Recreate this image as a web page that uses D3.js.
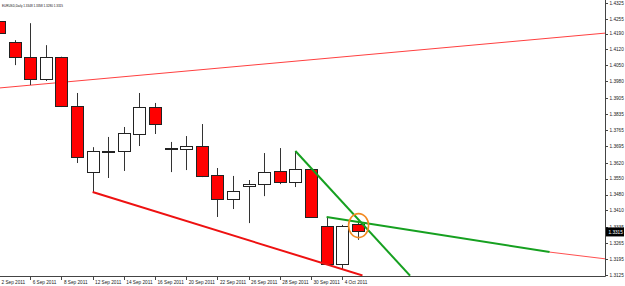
<!DOCTYPE html>
<html><head><meta charset="utf-8">
<script src="https://cdn.jsdelivr.net/npm/d3@7"></script>
<style>
body{margin:0;background:#fff;overflow:hidden}
svg{display:block}
text{font-family:"Liberation Sans",Arial,sans-serif}
</style></head>
<body><svg id="c" width="625" height="286"></svg>
<script>
// ---- data ----
const dates = ["2 Sep","5 Sep","6 Sep","7 Sep","8 Sep","9 Sep","12 Sep","13 Sep","14 Sep","15 Sep","16 Sep","19 Sep","20 Sep","21 Sep","22 Sep","23 Sep","26 Sep","27 Sep","28 Sep","29 Sep","30 Sep","3 Oct","4 Oct","5 Oct"];
const opens  = [1.4246,1.4153,1.4086,1.3989,1.4086,1.3870,1.3579,1.3670,1.3672,1.3747,1.3866,1.3685,1.3681,1.3694,1.3566,1.3460,1.3517,1.3526,1.3584,1.3535,1.3592,1.3341,1.3174,1.3348];
const highs  = [1.4252,1.4161,1.4236,1.4139,1.4088,1.3928,1.3689,1.3734,1.3778,1.3928,1.3884,1.3712,1.3738,1.3791,1.3597,1.3562,1.3544,1.3663,1.3685,1.3672,1.3594,1.3381,1.3346,1.3358];
const lows   = [1.4188,1.4051,1.3963,1.3981,1.3866,1.3619,1.3491,1.3553,1.3584,1.3694,1.3747,1.3579,1.3588,1.3557,1.3381,1.3416,1.3354,1.3473,1.3526,1.3513,1.3380,1.3169,1.3151,1.3280];
const closes = [1.4192,1.4086,1.3989,1.4086,1.3870,1.3645,1.3672,1.3673,1.3751,1.3866,1.3791,1.3681,1.3694,1.3562,1.3460,1.3495,1.3526,1.3579,1.3535,1.3592,1.3381,1.3174,1.3341,1.3315];

const dateTickIndex  = [0,2,4,6,8,10,12,14,16,18,20,22];
const dateTickLabels = ["2 Sep 2011","6 Sep 2011","8 Sep 2011","12 Sep 2011","14 Sep 2011","16 Sep 2011","20 Sep 2011","22 Sep 2011","26 Sep 2011","28 Sep 2011","30 Sep 2011","4 Oct 2011"];
const priceTickLabels = ["1.3125","1.3195","1.3265","1.3335","1.3410","1.3480","1.3550","1.3620","1.3695","1.3765","1.3835","1.3905","1.3980","1.4050","1.4120","1.4190","1.4255","1.4325"];

const title = "EURUSD,Daily  1.3348 1.3358 1.3280 1.3315";
const lastPrice = "1.3315";

// trend lines: [startIndex, startPrice, endIndex, endPrice]
const upperRedLine  = [0, 1.3950, 39, 1.4193];
const lowerRedLine  = [6, 1.3491, 23.3, 1.3123];
const steepGreenLine = [19, 1.3672, 26.35, 1.3122];
const flatGreenLine  = [21, 1.3381, 35.3, 1.3226];
const redExtension   = [35.3, 1.3226, 38.9, 1.3196];
const markerCircle = [23.05, 1.3343];

// ---- drawing ----
const W = 625, H = 286, axisX = 605, axisY = 276;
const svg = d3.select("#c");
const x = d3.scaleLinear().domain([0, 24]).range([-1, -1 + 24 * 15.6]);
const y = d3.scaleLinear().domain([1.3125, 1.4325]).range([275, 3]);

svg.append("defs").append("clipPath").attr("id","plot")
  .append("rect").attr("x",0).attr("y",0).attr("width",axisX).attr("height",axisY);

const plot = svg.append("g").attr("clip-path","url(#plot)");

function drawLine(l, color, w) {
  plot.append("line")
    .attr("x1", x(l[0])).attr("y1", y(l[1]))
    .attr("x2", x(l[2])).attr("y2", y(l[3]))
    .attr("stroke", color).attr("stroke-width", w);
}

// upper thin red line (behind candles)
drawLine(upperRedLine, "#ff4040", 1);

// candles
const idx = d3.range(dates.length);
const bw = 12;
const cg = plot.append("g");
cg.selectAll("line.wick").data(idx).join("line")
  .attr("class","wick")
  .attr("x1", i => Math.round(x(i)) + 0.5).attr("x2", i => Math.round(x(i)) + 0.5)
  .attr("y1", i => y(highs[i])).attr("y2", i => y(lows[i]))
  .attr("stroke", "#333").attr("stroke-width", 1);
cg.selectAll("rect.body").data(idx).join("rect")
  .attr("class","body")
  .attr("x", i => Math.round(x(i)) - bw/2 + 0.5)
  .attr("width", bw)
  .attr("y", i => Math.round(y(Math.max(opens[i], closes[i]))) + 0.5)
  .attr("height", i => Math.max(1, Math.round(Math.abs(y(opens[i]) - y(closes[i])))))
  .attr("fill", i => closes[i] < opens[i] ? "#ff0000" : "#ffffff")
  .attr("stroke", "#222").attr("stroke-width", 1);

// trend lines
drawLine(lowerRedLine, "#ee1111", 2);
drawLine(steepGreenLine, "#16a020", 2);
drawLine(flatGreenLine, "#16a020", 2);
drawLine(redExtension, "#ff5050", 1);

// orange circle
plot.append("ellipse")
  .attr("cx", x(markerCircle[0])).attr("cy", y(markerCircle[1]))
  .attr("rx", 10).attr("ry", 12)
  .attr("fill","none").attr("stroke","#f28a22").attr("stroke-width",1.6);

// axes frame
svg.append("line").attr("x1",0).attr("x2",axisX+0.5).attr("y1",axisY+0.5).attr("y2",axisY+0.5)
  .attr("stroke","#444").attr("stroke-width",1);
svg.append("line").attr("x1",axisX+0.5).attr("x2",axisX+0.5).attr("y1",0).attr("y2",axisY+0.5)
  .attr("stroke","#444").attr("stroke-width",1);

// price ticks
const priceVals = priceTickLabels.map(Number);
const yt = svg.append("g");
yt.selectAll("line").data(priceVals).join("line")
  .attr("x1", axisX+1).attr("x2", axisX+3)
  .attr("y1", d => Math.round(y(d))+0.5).attr("y2", d => Math.round(y(d))+0.5)
  .attr("stroke","#444");
yt.selectAll("text").data(priceTickLabels).join("text")
  .attr("x", axisX+4.5).attr("y", (d,i) => y(priceVals[i]) + 1.7)
  .attr("font-size", 4.7).attr("fill","#222").text(d => d);

// last price box
const lp = +lastPrice;
svg.append("rect").attr("x", axisX+1).attr("y", y(lp)-4.5).attr("width", 18).attr("height", 9).attr("fill","#000");
svg.append("text").attr("x", axisX+3.5).attr("y", y(lp)+1.8).attr("font-size",4.7).attr("fill","#fff").text(lastPrice);

// date ticks
const xt = svg.append("g");
xt.selectAll("line").data(dateTickIndex).join("line")
  .attr("x1", i => Math.round(x(i))+0.5).attr("x2", i => Math.round(x(i))+0.5)
  .attr("y1", axisY).attr("y2", axisY+4).attr("stroke","#444");
xt.selectAll("text").data(dateTickLabels).join("text")
  .attr("x", (d,k) => x(dateTickIndex[k]) + 2.5).attr("y", axisY+7.5)
  .attr("font-size", 4.7).attr("fill","#222").text(d => d);

// title
svg.append("text").attr("x", 2).attr("y", 6.5).attr("font-size", 4.2).attr("fill","#111")
  .attr("textLength", 61).attr("lengthAdjust","spacingAndGlyphs").text(title);
</script></body></html>
